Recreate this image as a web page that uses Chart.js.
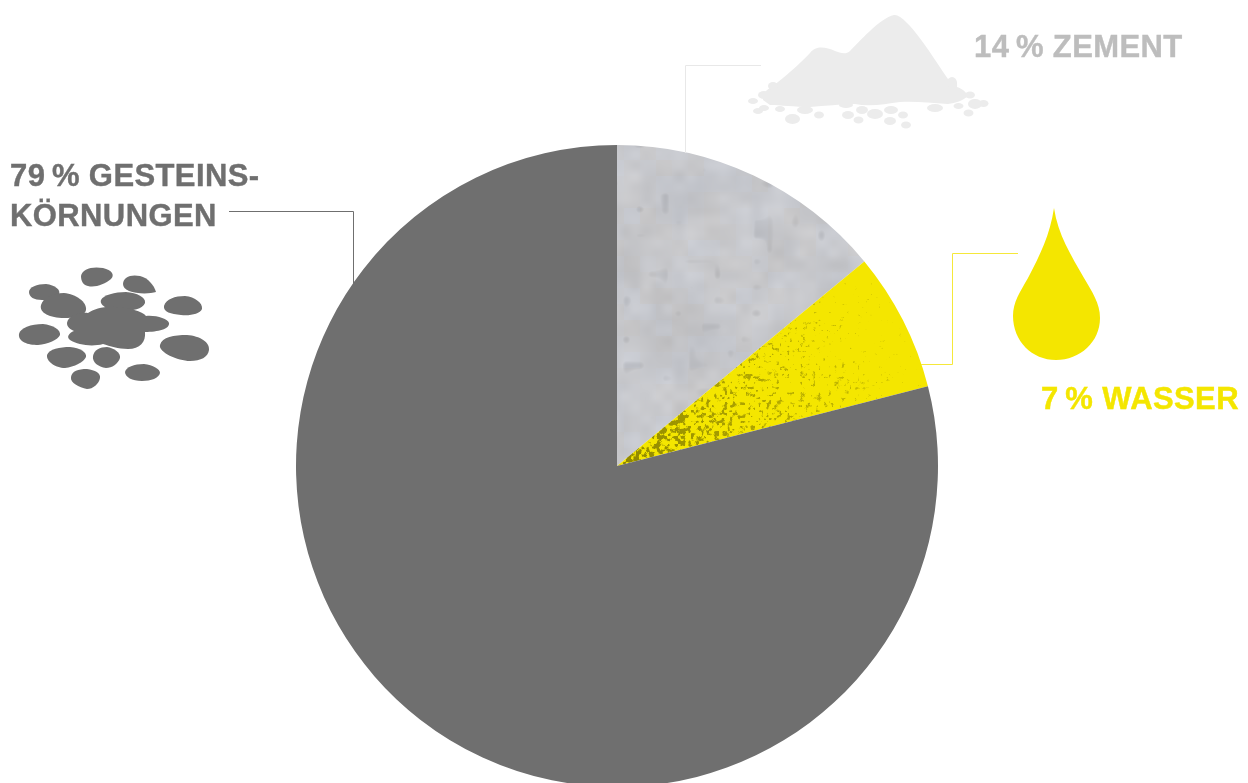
<!DOCTYPE html>
<html lang="de">
<head>
<meta charset="utf-8">
<title>Zusammensetzung Beton</title>
<script src="https://cdn.jsdelivr.net/npm/chart.js@4"></script>
<style>
  html, body { margin: 0; height: 100%; background: #fff; overflow: hidden; }
  #mix { position: absolute; left: 0; top: 0; }
  .label {
    position: absolute;
    font: bold 31px/40px "Liberation Sans", Arial, sans-serif;
    letter-spacing: 0.4px;
    -webkit-text-stroke: 0.4px currentColor;
    white-space: nowrap;
  }
</style>
</head>
<body>
<canvas id="mix" width="1248" height="800"></canvas>
<div class="label" id="labelZement" style="left:974px;top:27px;color:#bdbdbd"></div>
<div class="label" id="labelWasser" style="left:1041px;top:379px;color:#f4e600"></div>
<div class="label" id="labelGestein" style="left:10px;top:156px;color:#6f6f6f"></div>

<script>
"use strict";

const categories = ["ZEMENT", "WASSER", "GESTEINS-KÖRNUNGEN"];
const shares = [14, 7, 79];

const GREY = "#6f6f6f";
const YELLOW = "#f4e600";
const PIE_X = 617;
const PIE_Y = 466;
const PIE_R = 321;

// ----------------------------
// Slice textures
// ----------------------------
function hash(x, y) {
  const s = Math.sin(x * 12.9898 + y * 78.233) * 43758.5453;
  return s - Math.floor(s);
}

function smoothNoise(x, y, cell) {
  const cx = Math.floor(x / cell), cy = Math.floor(y / cell);
  let fx = x / cell - cx, fy = y / cell - cy;
  fx = fx * fx * (3 - 2 * fx);
  fy = fy * fy * (3 - 2 * fy);
  const top = hash(cx, cy) * (1 - fx) + hash(cx + 1, cy) * fx;
  const bottom = hash(cx, cy + 1) * (1 - fx) + hash(cx + 1, cy + 1) * fx;
  return top * (1 - fy) + bottom * fy;
}

function makePattern(ctx, w, h, shade) {
  const off = document.createElement("canvas");
  off.width = w;
  off.height = h;
  const octx = off.getContext("2d");
  const img = octx.createImageData(w, h);
  for (let y = 0; y < h; y++) {
    for (let x = 0; x < w; x++) {
      const i = (y * w + x) * 4;
      const rgb = shade(x, y);
      img.data[i] = rgb[0];
      img.data[i + 1] = rgb[1];
      img.data[i + 2] = rgb[2];
      img.data[i + 3] = 255;
    }
  }
  octx.putImageData(img, 0, 0);
  return ctx.createPattern(off, "no-repeat");
}

// mottled concrete in soft blocks, with a few darker pores
function concrete(x, y) {
  const broad = smoothNoise(x, y, 30) - 0.5;
  const mid = smoothNoise(x + 300, y, 11) - 0.5;
  const tint = hash(Math.floor(x / 16), Math.floor(y / 16)) - 0.5;
  const pore = smoothNoise(x + 700, y + 90, 13);
  let v = 199 + broad * 12 + mid * 9 + tint * 3;
  if (pore > 0.8) v -= (pore - 0.8) * 90;
  return [v - 1 - tint * 3, v, v + 4 + tint * 5];
}

// yellow with dark grain that thins out towards the rim
function grainYellow(x, y) {
  const t = Math.hypot(x - PIE_X, y - PIE_Y) / PIE_R;
  const n = smoothNoise(x, y, 2.6) * 0.85 + hash(x, y) * 0.15;
  const limit = 0.62 - 0.5 * t;
  const dark = n < limit ? Math.min(1, (limit - n) * 6) * (0.6 - t * 0.4) : 0;
  return [244 - dark * 170, 230 - dark * 160, 0];
}

// ----------------------------
// Icons and leader lines
// ----------------------------
const stones = [
  "M81 276C82 269 92 266 103 268C112 270 115 275 111 279C105 284 95 288 88 286C83 285 81 281 81 276Z",
  "M123 284C123 277 131 274 140 276C148 278 154 285 156 292C150 294 136 294 129 291C125 289 123 287 123 284Z",
  "M29 292C29 287 37 284 46 284C55 285 61 290 59 294C57 298 50 300 42 300C34 300 29 297 29 292Z",
  "M41 305C43 298 52 293 64 293C76 294 87 302 86 310C85 316 75 318 64 318C50 318 39 313 41 305Z",
  "M101 300C103 295 115 292 126 292C137 293 146 297 145 303C143 309 132 311 122 311C110 311 99 306 101 300Z",
  "M164 306C166 299 175 296 185 296C195 297 203 303 202 309C200 314 190 316 181 315C171 314 163 312 164 306Z",
  "M67 323C68 316 78 312 88 313C94 309 104 306 116 307C128 308 143 311 146 316C156 315 168 319 169 323C170 329 158 332 145 332C146 342 140 349 128 349C118 349 110 346 103 344C92 347 78 345 70 340C66 337 69 333 74 331C70 329 67 327 67 323Z",
  "M19 334C20 328 31 324 43 324C53 325 61 330 60 335C58 340 48 344 38 345C28 345 18 342 19 334Z",
  "M160 345C162 337 174 335 187 335C200 336 210 342 209 350C208 357 201 361 190 361C178 361 158 352 160 345Z",
  "M47 355C49 349 60 347 70 347C80 348 87 352 86 357C84 362 74 367 65 368C55 368 46 361 47 355Z",
  "M93 356C94 350 100 347 107 347C114 348 121 353 120 358C118 364 112 368 106 368C98 367 92 362 93 356Z",
  "M125 372C126 367 134 364 144 364C153 365 160 369 160 373C159 378 151 381 142 381C132 381 125 377 125 372Z",
  "M71 377C72 371 78 369 87 369C95 370 101 373 100 378C99 384 93 389 87 389C79 387 70 383 71 377Z"
];

const heap = "M763 100C762 94 766 90 773 86C782 79 800 64 810 53C816 45 826 47 835 51C840 53 846 55 850 51" +
  "C858 43 880 18 894 15C906 13 935 60 948 79C955 78 958 82 957 87C963 89 966 92 968 96C962 101 956 103 948 104" +
  "C930 103 915 101 900 102C885 104 870 107 855 104C840 104 825 106 810 107C795 107 780 105 770 105Z";

const heapDots = [
  [753, 101, 5, 3], [758, 111, 5, 3], [764, 108, 5, 3], [773, 86, 5, 4], [764, 95, 6, 4], [780, 109, 5, 3],
  [792.5, 119, 7.5, 5], [819, 115, 5, 3.5], [805, 110, 8, 4], [848, 115, 6, 4], [846, 105, 7, 3],
  [858.5, 120, 5, 3.5], [862, 110, 6, 4], [875, 114, 8, 5], [890, 121, 6, 4], [891, 110, 7, 4],
  [903, 115, 5, 3.5], [906, 125, 5, 3.5], [935, 108, 8, 4], [952, 83, 5, 6], [958.5, 106, 5, 3],
  [968.5, 113, 5, 3.5], [970, 95, 5, 3.5], [975, 104, 7, 5], [983.5, 103.5, 5, 3.5]
];

const drop = "M1054 208C1050 235 1040 255 1028 278C1020 292 1013 302 1013 316C1013 341 1032 360 1056 360" +
  "C1080 360 1100 342 1100 318C1100 303 1092 292 1084 278C1071 255 1058 235 1054 208Z";

const leaders = [
  { color: "#e8e8e8", points: [[685.5, 153], [685.5, 65.5], [761, 65.5]] },
  { color: GREY, points: [[229, 211.5], [353.5, 211.5], [353.5, 284]] },
  { color: "#f5e83a", points: [[921, 364.5], [952.5, 364.5], [952.5, 253.5], [1018, 253.5]] }
];

const decorations = {
  id: "decorations",
  afterDraw(chart) {
    const ctx = chart.ctx;
    ctx.save();

    leaders.forEach(line => {
      ctx.strokeStyle = line.color;
      ctx.lineWidth = 1;
      ctx.beginPath();
      line.points.forEach((p, i) => i ? ctx.lineTo(p[0], p[1]) : ctx.moveTo(p[0], p[1]));
      ctx.stroke();
    });

    ctx.fillStyle = GREY;
    stones.forEach(d => ctx.fill(new Path2D(d)));

    ctx.fillStyle = "#ececec";
    ctx.fill(new Path2D(heap));
    heapDots.forEach(d => {
      ctx.beginPath();
      ctx.ellipse(d[0], d[1], d[2], d[3], 0, 0, Math.PI * 2);
      ctx.fill();
    });

    ctx.fillStyle = YELLOW;
    ctx.fill(new Path2D(drop));
    ctx.restore();
  }
};

// ----------------------------
// Pie
// ----------------------------
const canvas = document.getElementById("mix");
const ctx = canvas.getContext("2d");

new Chart(ctx, {
  type: "pie",
  data: {
    labels: categories,
    datasets: [{
      data: shares,
      borderWidth: 0,
      backgroundColor: [
        makePattern(ctx, canvas.width, canvas.height, concrete),
        makePattern(ctx, canvas.width, canvas.height, grainYellow),
        GREY
      ]
    }]
  },
  options: {
    responsive: false,
    animation: false,
    layout: {
      padding: {
        left: PIE_X - PIE_R,
        right: canvas.width - PIE_X - PIE_R,
        top: PIE_Y - PIE_R,
        bottom: canvas.height - PIE_Y - PIE_R
      }
    },
    plugins: { legend: { display: false }, tooltip: { enabled: false } }
  },
  plugins: [decorations]
});

// ----------------------------
// Labels
// ----------------------------
function share(i) {
  return `${shares[i]}\u2009%`;
}

document.getElementById("labelZement").textContent = `${share(0)} ${categories[0]}`;
document.getElementById("labelWasser").textContent = `${share(1)} ${categories[1]}`;
const stoneParts = categories[2].split("-");
document.getElementById("labelGestein").innerHTML = `${share(2)} ${stoneParts[0]}-<br>${stoneParts[1]}`;
</script>
</body>
</html>
